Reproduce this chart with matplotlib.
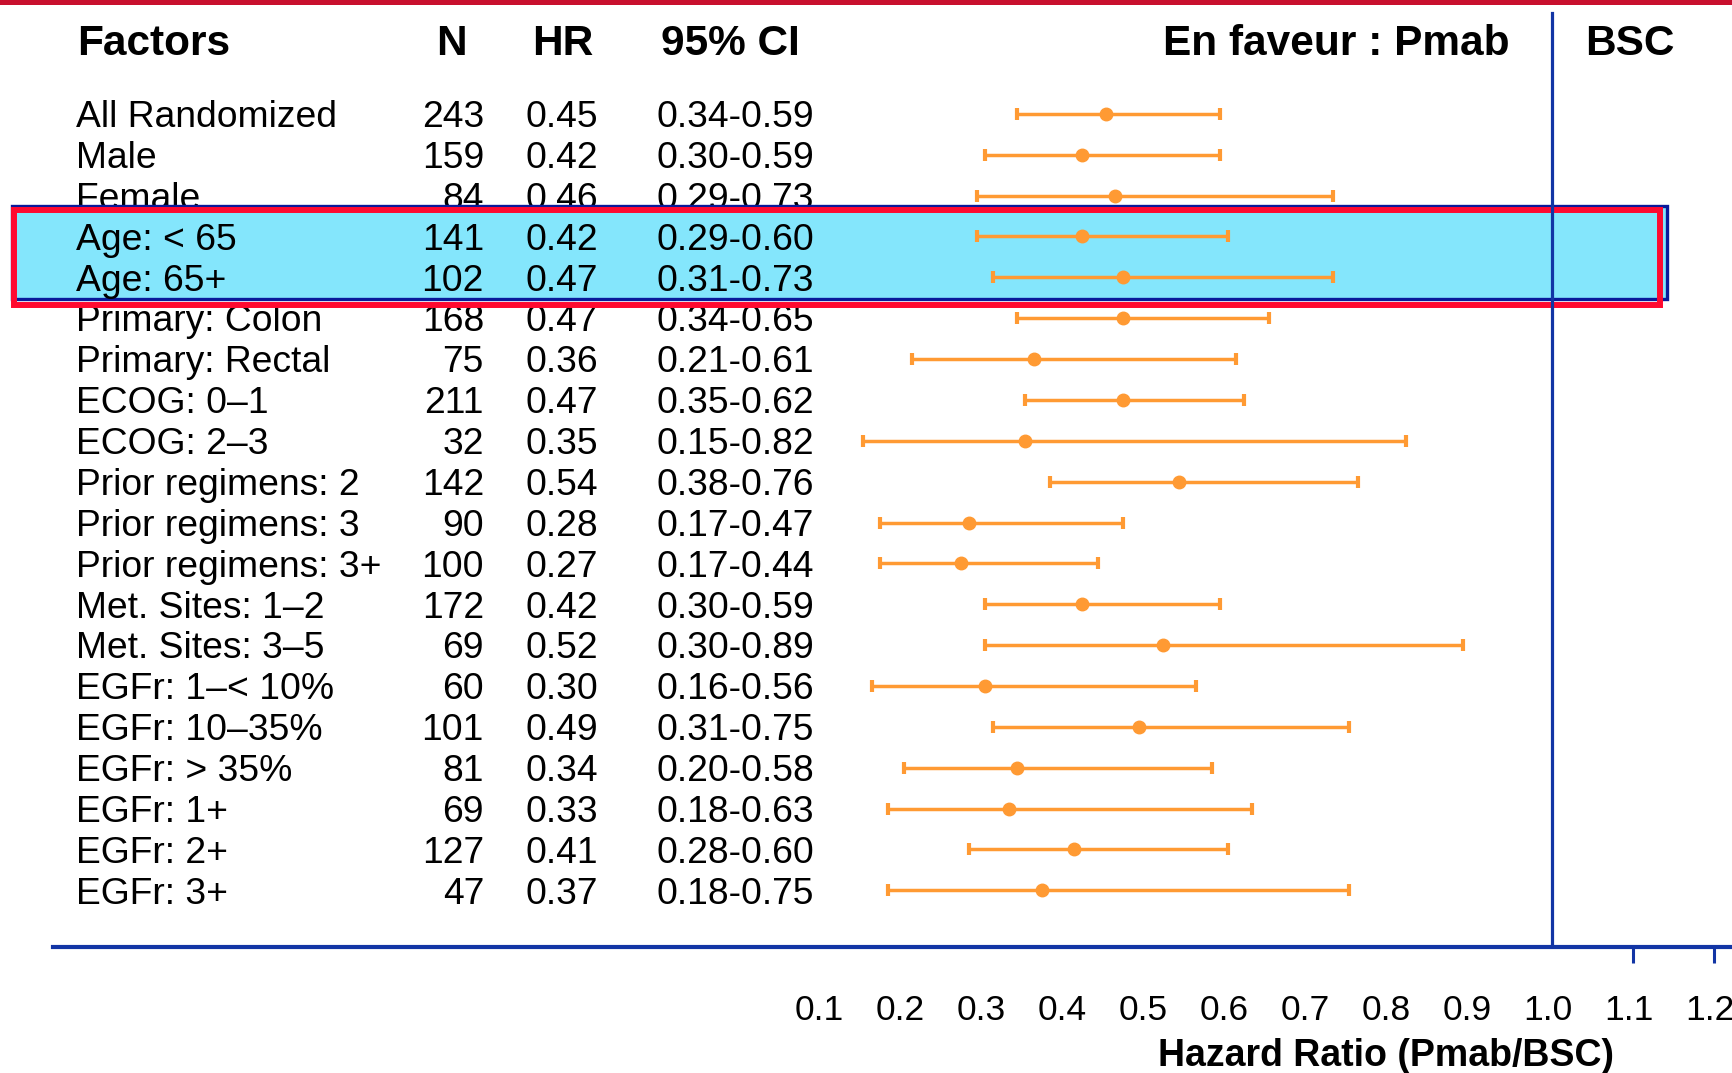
import matplotlib
matplotlib.use("Agg")
from matplotlib import pyplot as plt
from matplotlib.patches import Rectangle
from matplotlib.transforms import blended_transform_factory, ScaledTranslation
import numpy as np

plt.rcParams['font.family'] = ['Liberation Sans', 'DejaVu Sans']

# subgroup data
factors = ["All Randomized", "Male", "Female", "Age: < 65", "Age: 65+",
           "Primary: Colon", "Primary: Rectal", "ECOG: 0\u20131", "ECOG: 2\u20133",
           "Prior regimens: 2", "Prior regimens: 3", "Prior regimens: 3+",
           "Met. Sites: 1\u20132", "Met. Sites: 3\u20135", "EGFr: 1\u2013< 10%",
           "EGFr: 10\u201335%", "EGFr: > 35%", "EGFr: 1+", "EGFr: 2+", "EGFr: 3+"]
n_pat = [243, 159, 84, 141, 102, 168, 75, 211, 32, 142, 90, 100, 172, 69, 60, 101, 81, 69, 127, 47]
hr = [0.45, 0.42, 0.46, 0.42, 0.47, 0.47, 0.36, 0.47, 0.35, 0.54, 0.28, 0.27,
      0.42, 0.52, 0.30, 0.49, 0.34, 0.33, 0.41, 0.37]
ci_low = [0.34, 0.30, 0.29, 0.29, 0.31, 0.34, 0.21, 0.35, 0.15, 0.38, 0.17, 0.17,
          0.30, 0.30, 0.16, 0.31, 0.20, 0.18, 0.28, 0.18]
ci_high = [0.59, 0.59, 0.73, 0.60, 0.73, 0.65, 0.61, 0.62, 0.82, 0.76, 0.47, 0.44,
           0.59, 0.89, 0.56, 0.75, 0.58, 0.63, 0.60, 0.75]
highlight = [3, 4]
xticks = [0.1, 0.2, 0.3, 0.4, 0.5, 0.6, 0.7, 0.8, 0.9, 1.0, 1.1, 1.2]
marked_ticks = [1.1, 1.2]  # only these get a visible tick mark

W, H = 1732, 1073
fig = plt.figure(figsize=(W / 100, H / 100), dpi=100)
# axes: left edge at px 53, bottom (axis line) at px 947, top at px 0
ax = fig.add_axes([53 / W, (H - 947) / H, 1 - 53 / W, 947 / H])
ax.set_xlim(1 - 1499 / 810, 1 + 180 / 810)
row_h = 40.87
ax.set_ylim((947 - 113.8) / row_h, (0 - 113.8) / row_h)

orange = '#FF9A33'
blue = '#1235A5'
rows = np.arange(len(factors))

# error bars
hr_a = np.array(hr)
xerr = [hr_a - np.array(ci_low), np.array(ci_high) - hr_a]
ax.errorbar(hr_a, rows, xerr=xerr, fmt='o', color=orange, ms=9, elinewidth=2.5,
            capsize=4.5, capthick=3, zorder=6)

# reference line at 1
ax.axvline(1.0, ymin=0, ymax=1 - 13 / 947, color=blue, lw=2.3, zorder=7)

# text columns
tr = blended_transform_factory(fig.transFigure, ax.transData)
fs = 26.8
off = 0.326
for i in rows:
    z = 5 if i in highlight else 3
    y = i + off
    ax.text(76 / W, y, factors[i], transform=tr, fontsize=fs, va='baseline', ha='left', zorder=z)
    ax.text(484 / W, y, str(n_pat[i]), transform=tr, fontsize=fs, va='baseline', ha='right', zorder=z)
    ax.text(598 / W, y, "%.2f" % hr[i], transform=tr, fontsize=fs, va='baseline', ha='right', zorder=z)
    ax.text(657 / W, y, "%.2f-%.2f" % (ci_low[i], ci_high[i]), transform=tr, fontsize=fs,
            va='baseline', ha='left', zorder=z)

# headers
hy = (55 - 113.8) / row_h
hfs = 30.5
ax.text(77 / W, hy, "Factors", transform=tr, fontsize=hfs, weight='bold', va='baseline', ha='left')
ax.text(451 / W, hy, "N", transform=tr, fontsize=hfs, weight='bold', va='baseline', ha='center')
ax.text(563 / W, hy, "HR", transform=tr, fontsize=hfs, weight='bold', va='baseline', ha='center')
ax.text(730 / W, hy, "95% CI", transform=tr, fontsize=hfs, weight='bold', va='baseline', ha='center')
ax.text(1510 / W, hy, "En faveur : Pmab", transform=tr, fontsize=hfs, weight='bold', va='baseline', ha='right')
ax.text(1585 / W, hy, "BSC", transform=tr, fontsize=hfs, weight='bold', va='baseline', ha='left')

# highlight box for age rows
r0, r1 = highlight[0], highlight[-1]
ax.add_patch(Rectangle((12 / W, r0 - 0.745), 1655 / W, (r1 - r0) + 0.745 + 0.53, transform=tr,
                       facecolor='#84E6FC', edgecolor='#0A1A9A', lw=2.4, clip_on=False, zorder=4))
ax.add_patch(Rectangle((14 / W, r0 - 0.64), 1646 / W, (r1 - r0) + 0.64 + 0.68, transform=tr,
                       facecolor='none', edgecolor='#FF0A30', lw=4.3, clip_on=False, zorder=4.5))

# axis styling
for s in ['top', 'right', 'left']:
    ax.spines[s].set_visible(False)
ax.spines['bottom'].set_color(blue)
ax.spines['bottom'].set_linewidth(3)
ax.set_yticks([])
ax.set_xticks(xticks)
ax.set_xticklabels(["%.1f" % t for t in xticks], fontsize=25.5)
ax.tick_params(axis='x', which='major', length=11.5, width=2.2, color=blue,
               direction='out', pad=22.5)
for t, tick in zip(xticks, ax.xaxis.get_major_ticks()):
    if t not in marked_ticks:
        tick.tick1line.set_visible(False)
# labels sit a few pixels left of their tick positions in the original
shift = ScaledTranslation(-4 / 100, 0, fig.dpi_scale_trans)
for lbl in ax.get_xticklabels():
    lbl.set_transform(lbl.get_transform() + shift)

fig.text(1386 / W, 1 - 1056 / H, "Hazard Ratio (Pmab/BSC)", fontsize=27, weight='bold',
         ha='center', va='center')

# red stripe at the top
fig.add_artist(Rectangle((0, 1 - 5 / H), 1, 5 / H, transform=fig.transFigure,
                         facecolor='#C8102E', edgecolor='none'))

fig.savefig("out.png", dpi=100)
